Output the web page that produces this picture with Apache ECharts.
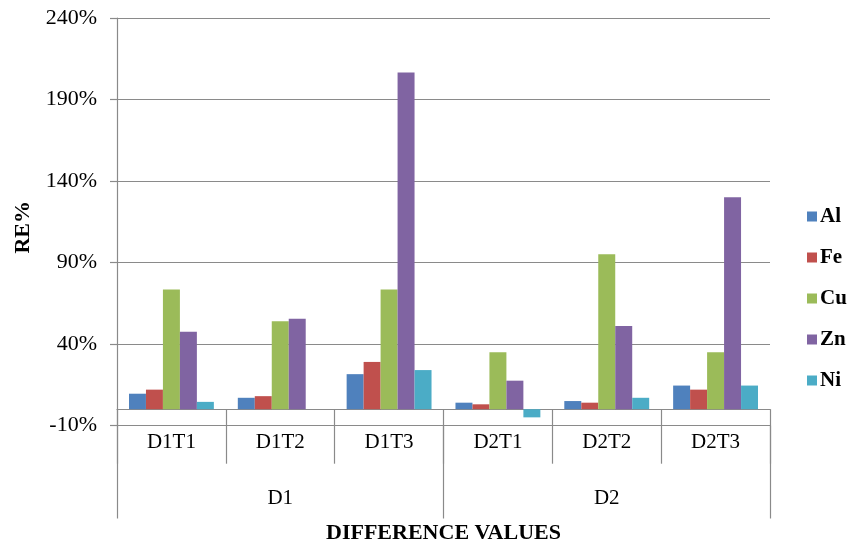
<!DOCTYPE html>
<html>
<head>
<meta charset="utf-8">
<script src="https://cdn.jsdelivr.net/npm/echarts@6/dist/echarts.min.js"></script>
<style>
  html, body { margin: 0; padding: 0; background: #fff; }
  #chart { width: 861px; height: 543px; }
</style>
</head>
<body>
<div id="chart"></div>
<script>
// Sample groups (inner level) and their parent groups (outer level)
const categories = ['D1T1', 'D1T2', 'D1T3', 'D2T1', 'D2T2', 'D2T3'];
const groups = ['D1', 'D2'];

// Relative error (%) per element
const seriesNames = ['Al', 'Fe', 'Cu', 'Zn', 'Ni'];
const alValues = [9.5, 7, 21.5, 4, 5, 14.5];
const feValues = [12, 8, 29, 3, 4, 12];
const cuValues = [73.5, 54, 73.5, 35, 95, 35];
const znValues = [47.5, 55.5, 206.5, 17.5, 51, 130];
const niValues = [4.5, 0, 24, -5, 7, 14.5];

// Value axis ticks
const yTicks = [-10, 40, 90, 140, 190, 240];

const colors = ['#4F81BD', '#C0504D', '#9BBB59', '#8064A2', '#4BACC6'];
const allValues = [alValues, feValues, cuValues, znValues, niValues];

const FONT = '"Liberation Serif", "Times New Roman", serif';
const GRID_COLOR = '#8a8a8a';

const chart = echarts.init(document.getElementById('chart'), null, { renderer: 'canvas' });

chart.setOption({
  animation: false,
  color: colors,
  textStyle: { fontFamily: FONT, color: '#000' },
  grid: { left: 117, right: 91, top: 18, bottom: 117.5, containLabel: false, outerBoundsMode: 'none' },
  legend: {
    orient: 'vertical',
    left: 802,
    top: 201,
    itemWidth: 10,
    itemHeight: 10,
    itemGap: 20,
    icon: 'rect',
    data: seriesNames,
    textStyle: { fontFamily: FONT, fontSize: 21, fontWeight: 'bold', color: '#000', padding: [0, 0, 0, -2] }
  },
  xAxis: [
    {
      // inner level: one box per sample, axis line sits on zero
      type: 'category',
      data: categories,
      position: 'bottom',
      axisLine: { onZero: true, lineStyle: { color: GRID_COLOR, width: 1.2 } },
      axisTick: { show: true, inside: false, length: 54.5, lineStyle: { color: GRID_COLOR, width: 1.2 } },
      axisLabel: { margin: 6, fontFamily: FONT, fontSize: 21, color: '#000' },
      splitLine: { show: false }
    },
    {
      // outer level: D1 / D2 groups
      type: 'category',
      data: groups,
      position: 'bottom',
      axisLine: { onZero: false, show: false },
      axisTick: { show: true, length: 93, lineStyle: { color: GRID_COLOR, width: 1.2 } },
      axisLabel: { margin: 62, fontFamily: FONT, fontSize: 21, color: '#000' },
      name: 'DIFFERENCE VALUES',
      nameLocation: 'middle',
      nameGap: 97,
      nameTextStyle: { fontFamily: FONT, fontSize: 22, fontWeight: 'bold', color: '#000' }
    }
  ],
  yAxis: {
    type: 'value',
    min: -10,
    max: 240,
    name: 'RE%',
    nameLocation: 'middle',
    nameGap: 83,
    nameTextStyle: { fontFamily: FONT, fontSize: 22, fontWeight: 'bold', color: '#000', padding: [0, 11, 0, 0] },
    axisLine: { show: true, lineStyle: { color: GRID_COLOR, width: 1.2 } },
    axisTick: { show: true, length: 7, customValues: yTicks, lineStyle: { color: GRID_COLOR, width: 1.2 } },
    axisLabel: {
      customValues: yTicks,
      margin: 20,
      fontFamily: FONT,
      fontSize: 22,
      color: '#000',
      formatter: v => v + '%'
    },
    splitLine: { show: true, lineStyle: { color: GRID_COLOR, width: 1.2 } }
  },
  series: seriesNames.map((name, i) => ({
    name: name,
    type: 'bar',
    xAxisIndex: 0,
    data: allValues[i],
    barGap: '0%',
    barCategoryGap: '22%',
    itemStyle: { color: colors[i] }
  }))
});
</script>
</body>
</html>
